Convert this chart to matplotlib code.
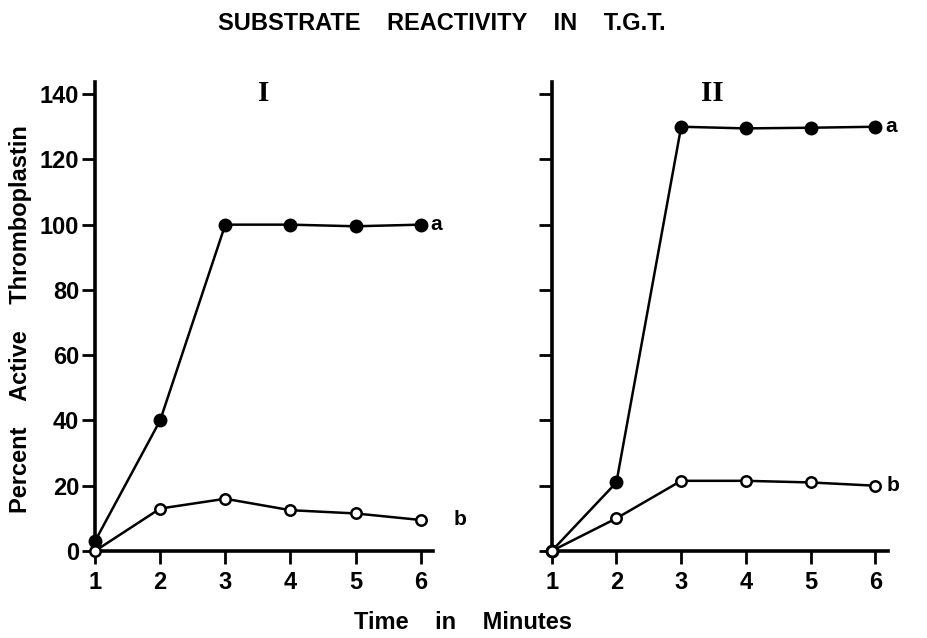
import matplotlib
matplotlib.use('Agg')
import matplotlib.pyplot as plt

# data
minutes = [1, 2, 3, 4, 5, 6]
yticks = [0, 20, 40, 60, 80, 100, 120, 140]

panel1_a = [3, 40, 100, 100, 99.5, 100]
panel1_b = [0, 13, 16, 12.5, 11.5, 9.5]
panel2_a = [0, 21, 130, 129.5, 129.7, 130]
panel2_b = [0, 10, 21.5, 21.5, 21, 20]

panels = [
  ('I', panel1_a, panel1_b, True),
  ('II', panel2_a, panel2_b, False),
]

plt.rcParams['font.family'] = ['Liberation Sans', 'DejaVu Sans']

fig = plt.figure(figsize=(9.27, 6.38), dpi=100)
rects = [[0.1025, 0.1364, 0.3646, 0.735], [0.5951, 0.1364, 0.3625, 0.735]]

for rect, (name, ya, yb, showy) in zip(rects, panels):
  ax = fig.add_axes(rect)
  ax.plot(minutes, ya, color='black', lw=1.8, marker='o', ms=9,
          mfc='black', mec='black', clip_on=False, zorder=3)
  ax.plot(minutes, yb, color='black', lw=1.8, marker='o', ms=7.5,
          mfc='white', mec='black', mew=1.8, clip_on=False, zorder=3)
  ax.set_xlim(1, 6.19)
  ax.set_ylim(0, 143.7)
  ax.set_xticks(minutes)
  ax.set_yticks(yticks)
  for s in ['top', 'right']:
    ax.spines[s].set_visible(False)
  for s in ['left', 'bottom']:
    ax.spines[s].set_linewidth(2.6)
  ax.tick_params(direction='out', length=9.5, width=2.0)
  ax.tick_params(axis='x', pad=5)
  ax.tick_params(axis='y', pad=2)
  for lab in ax.get_xticklabels():
    lab.set_fontweight('bold')
    lab.set_fontsize(17)
  if showy:
    for lab in ax.get_yticklabels():
      lab.set_fontweight('bold')
      lab.set_fontsize(17)
  else:
    ax.set_yticklabels([])
  ax.text(0.5 if showy else 0.477, 1.005, name,
          transform=ax.transAxes, ha='center', va='top',
          family=['Liberation Serif', 'DejaVu Serif'], fontweight='bold',
          fontsize=21)
  off_b = 24 if showy else 8
  ax.annotate('a', (minutes[-1], ya[-1]), xytext=(7, 0), textcoords='offset points',
              ha='left', va='center', fontsize=15, fontweight='bold')
  ax.annotate('b', (minutes[-1], yb[-1]), xytext=(off_b, 0), textcoords='offset points',
              ha='left', va='center', fontsize=15, fontweight='bold')

fig.text(0.477, 0.963, 'SUBSTRATE    REACTIVITY    IN    T.G.T.', ha='center', va='center',
         fontsize=17, fontweight='bold')
fig.text(0.5, 0.025, 'Time    in    Minutes', ha='center', va='center',
         fontsize=17, fontweight='bold')
fig.text(0.022, 0.5, 'Percent    Active    Thromboplastin', ha='center', va='center',
         rotation=90, fontsize=17, fontweight='bold')

fig.savefig('out.png', dpi=100)
